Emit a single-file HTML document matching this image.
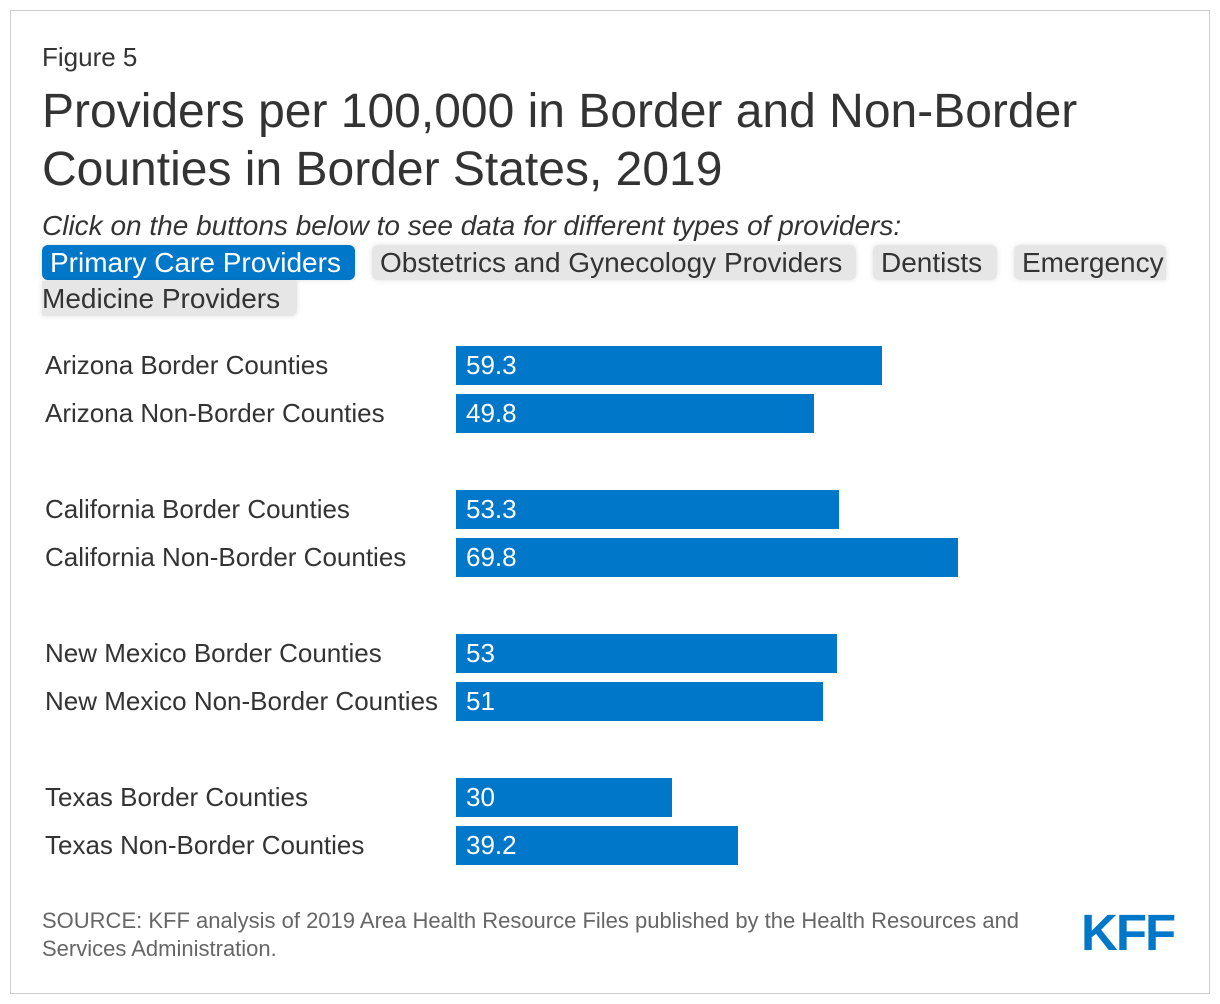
<!DOCTYPE html>
<html><head><meta charset="utf-8"><style>
body{margin:0;width:1220px;height:1004px;background:#fff;font-family:"Liberation Sans",Arial,sans-serif;color:#333;position:relative;overflow:hidden}
.a{position:absolute;white-space:nowrap}
.btn{position:absolute;height:35px;line-height:35px;font-size:28px;background:#e6e6e6;color:#333;border-radius:6px;padding-left:8px;box-sizing:border-box;box-shadow:0 0 6px rgba(0,0,0,.12);white-space:nowrap;overflow:hidden}
.lbl{position:absolute;left:45px;font-size:26px;color:#333;white-space:nowrap}
.bar{position:absolute;background:#0077c8;height:39px}
.val{position:absolute;color:#fff;font-size:26px}
</style></head><body>
<div class="a" style="left:10px;top:10px;width:1198px;height:982px;border:1px solid #ccc"></div>
<div class="a" style="left:42px;top:42px;font-size:26px">Figure 5</div>
<div class="a" style="left:42px;top:83px;font-size:48px;line-height:58px">Providers per 100,000 in Border and Non-Border<br>Counties in Border States, 2019</div>
<div class="a" style="left:42px;top:210px;font-size:28px;font-style:italic">Click on the buttons below to see data for different types of providers:</div>
<div class="btn" style="left:42px;top:245px;width:313px;background:#0077c8;color:#fff">Primary Care Providers</div>
<div class="btn" style="left:372px;top:245px;width:484px">Obstetrics and Gynecology Providers</div>
<div class="btn" style="left:873px;top:245px;width:124px">Dentists</div>
<div class="btn" style="left:1014px;top:245px;width:152px;border-radius:6px 6px 0 6px">Emergency</div>
<div class="btn" style="left:42px;top:281px;width:255px;padding-left:0;border-radius:0 0 6px 0">Medicine Providers</div>
<div id="chart"></div>
<div class="a" style="left:42px;top:907px;font-size:22px;line-height:28px;color:#666">SOURCE: KFF analysis of 2019 Area Health Resource Files published by the Health Resources and<br>Services Administration.</div>
<div class="a" style="left:1081px;top:903px;font-size:51px;font-weight:bold;color:#0077c8;letter-spacing:-2px">KFF</div>
<script>
const categories=["Arizona Border Counties","Arizona Non-Border Counties","California Border Counties","California Non-Border Counties","New Mexico Border Counties","New Mexico Non-Border Counties","Texas Border Counties","Texas Non-Border Counties"];
const values=[59.3,49.8,53.3,69.8,53,51,30,39.2];
const valueLabels=["59.3","49.8","53.3","69.8","53","51","30","39.2"];
const x0=456,scale=7.19;
function xs(v){return v*scale;}
function yc(i){return 365+Math.floor(i/2)*144+(i%2)*48;}
const c=document.getElementById('chart');
categories.forEach((cat,i)=>{
 const l=document.createElement('div');l.className='lbl';
 
 
 l.style.top=(yc(i)-15)+'px';l.textContent=cat;c.appendChild(l);
 const b=document.createElement('div');b.className='bar';
 
 
 b.style.left=x0+'px';b.style.top=(yc(i)-19)+'px';b.style.width=xs(values[i])+'px';c.appendChild(b);
 const t=document.createElement('div');t.className='val';
 
 
 t.style.left=(x0+10)+'px';t.style.top=(yc(i)-15)+'px';t.textContent=valueLabels[i];c.appendChild(t);
});
</script>
</body></html>
